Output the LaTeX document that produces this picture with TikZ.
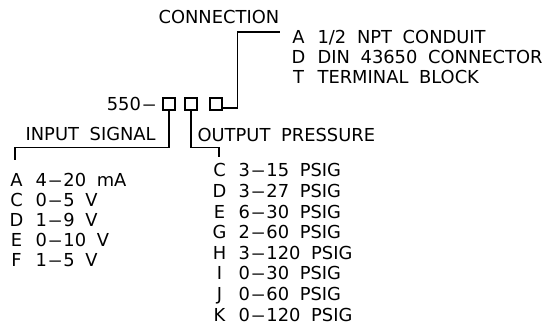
\documentclass[tikz,border=0pt]{standalone}
\usepackage{graphicx}
\usepackage{fontspec}
\setmainfont{DejaVu Sans}

\newcommand{\optrow}[2]{\makebox[10.5pt][c]{#1}\hspace{9pt}#2}
\newcommand{\rng}{\kern0.8pt\scalebox{1.6}[1]{–}\kern0.8pt}

\tikzset{every picture/.style={line width=0.9pt}}
\tikzset{
  cadtext/.style={inner sep=0pt, align=left, font={\fontsize{13.4}{15}\selectfont\spaceskip=8pt\relax}},
  optbox/.style={draw, minimum size=9pt, inner sep=0pt}
}

\begin{document}
\begin{tikzpicture}[x=0.75pt,y=0.75pt,yscale=-1,xscale=1]
\useasboundingbox (0,0) rectangle (549,328);

% Model code boxes
\node [cadtext, anchor=north east] (model) at (158,97) {550\rng};
\node [optbox] (box1) at (169,104) {};
\node [optbox] (box2) at (191,104) {};
\node [optbox] (box3) at (216,104) {};

% Headings
\node [cadtext, anchor=north west] (connhead) at (158,10) {CONNECTION};
\node [cadtext, anchor=north west] (inhead) at (25,127) {INPUT SIGNAL};
\node [cadtext, anchor=north west] (outhead) at (197,128) {OUTPUT PRESSURE};

% Option lists
\node [cadtext, anchor=north west] (connlist) at (291,30) {\optrow{A}{1/2 NPT CONDUIT}\\ \optrow{D}{DIN 43650 CONNECTOR}\\ \optrow{T}{TERMINAL BLOCK}};
\node [cadtext, anchor=north west] (inlist) at (9,173) {\optrow{A}{4\rng20 mA}\\ \optrow{C}{0\rng5 V}\\ \optrow{D}{1\rng9 V}\\ \optrow{E}{0\rng10 V}\\ \optrow{F}{1\rng5 V}};
\node [cadtext, anchor=north west, font={\fontsize{13.4}{15.45}\selectfont\spaceskip=8pt\relax}] (outlist) at (212,163) {\optrow{C}{3\rng15 PSIG}\\ \optrow{D}{3\rng27 PSIG}\\ \optrow{E}{6\rng30 PSIG}\\ \optrow{G}{2\rng60 PSIG}\\ \optrow{H}{3\rng120 PSIG}\\ \optrow{I}{0\rng30 PSIG}\\ \optrow{J}{0\rng60 PSIG}\\ \optrow{K}{0\rng120 PSIG}};

% Leader ends
\coordinate (inend) at (15,160);
\coordinate (outend) at (219,157);
\coordinate (connend) at (280,32);

% Leaders
\draw (box1.south) -- ++(0,37) -| (inend);
\draw (box2.south) -- ++(0,37) -| (outend);
\draw ([yshift=3pt]box3.east) -- ++(15,0) |- (connend);

\end{tikzpicture}
\end{document}
